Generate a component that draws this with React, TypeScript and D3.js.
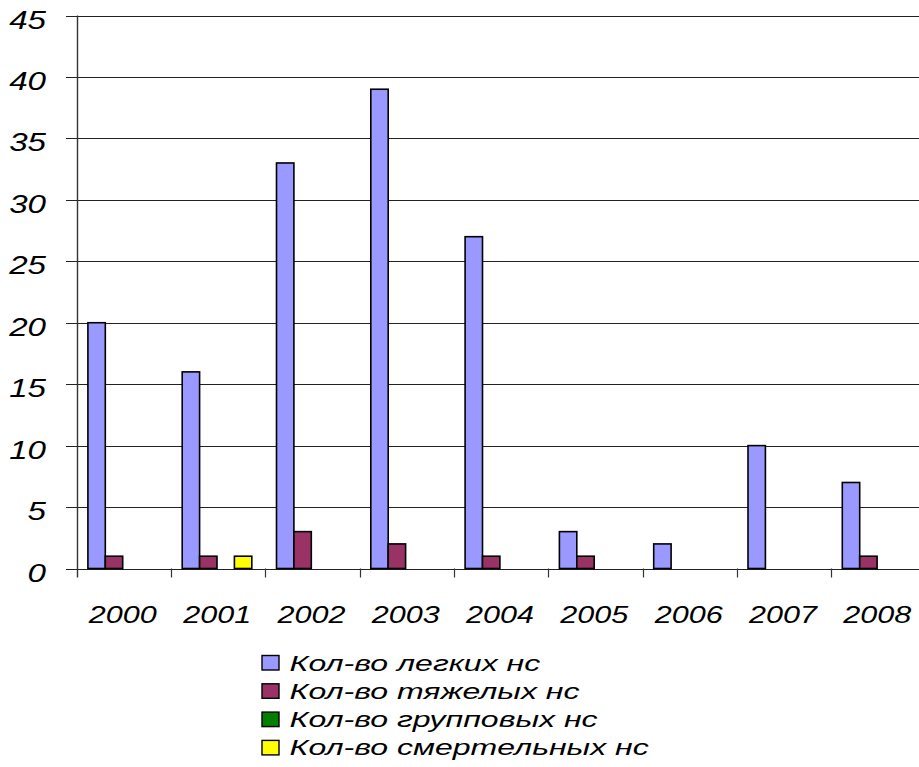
import React from "react";
import * as d3 from "d3";

const years = ["2000", "2001", "2002", "2003", "2004", "2005", "2006", "2007", "2008"];
const seriesNames = [
  "Кол-во легких нс",
  "Кол-во тяжелых нс",
  "Кол-во групповых нс",
  "Кол-во смертельных нс",
];
const lightValues = [20, 16, 33, 39, 27, 3, 2, 10, 7];
const heavyValues = [1, 1, 3, 2, 1, 1, 0, 0, 1];
const groupValues = [0, 0, 0, 0, 0, 0, 0, 0, 0];
const fatalValues = [0, 1, 0, 0, 0, 0, 0, 0, 0];
const seriesColors = ["#9999FF", "#993366", "#007F00", "#FFFF00"];
const yTicks = [0, 5, 10, 15, 20, 25, 30, 35, 40, 45];

const W = 919;
const H = 767;
const FONT = "'Liberation Sans', Arial, sans-serif";
const SX = 1.3;

export default function App() {
  const allSeries = [lightValues, heavyValues, groupValues, fatalValues];
  const plotLeft = 76.7;
  const groupW = 94.3;
  const x = d3.scaleBand<string>().domain(years).range([plotLeft, plotLeft + groupW * years.length]);
  const xs = d3.scaleBand<number>().domain([0, 1, 2, 3]).range([11.2, 11.2 + 4 * 17.4]);
  const y = d3.scaleLinear().domain([0, 45]).range([568.5, 15.5]);

  return (
    <svg
      width={W}
      height={H}
      style={{ position: "absolute", left: 0, top: 0, background: "#fff" }}
    >
      <rect x={0} y={0} width={W} height={H} fill="#fff" />
      {/* gridlines */}
      {yTicks.map((t) => (
        <line
          key={"g" + t}
          x1={66}
          x2={W}
          y1={Math.round(y(t)) + 0.5}
          y2={Math.round(y(t)) + 0.5}
          stroke="#222"
          strokeWidth={1.2}
        />
      ))}
      {/* y axis */}
      <line
        x1={Math.round(plotLeft) + 0.5}
        x2={Math.round(plotLeft) + 0.5}
        y1={y(45)}
        y2={y(0) + 9}
        stroke="#333"
        strokeWidth={1.4}
      />
      {/* category ticks */}
      {years.slice(1).map((yr) => (
        <line
          key={"t" + yr}
          x1={Math.round(x(yr)!) + 0.5}
          x2={Math.round(x(yr)!) + 0.5}
          y1={y(0)}
          y2={y(0) + 9}
          stroke="#333"
          strokeWidth={1.2}
        />
      ))}
      {/* bars */}
      {allSeries.map((vals, si) =>
        vals.map((v, i) =>
          v > 0 ? (
            <rect
              key={`b${si}-${i}`}
              x={x(years[i])! + xs(si)!}
              y={y(v)}
              width={xs.bandwidth()}
              height={y(0) - y(v)}
              fill={seriesColors[si]}
              stroke="#000"
              strokeWidth={1.6}
            />
          ) : null
        )
      )}
      {/* y labels */}
      {yTicks.map((t) => (
        <text
          key={"yl" + t}
          transform={`translate(46,${y(t) + 13}) scale(${SX},1)`}
          textAnchor="end"
          fontFamily={FONT}
          fontStyle="italic"
          fontSize={25.5}
          fill="#000"
        >
          {t}
        </text>
      ))}
      {/* x labels */}
      {years.map((yr) => (
        <text
          key={"xl" + yr}
          transform={`translate(${x(yr)! + x.bandwidth() / 2 - 1},623) scale(${SX},1)`}
          textAnchor="middle"
          fontFamily={FONT}
          fontStyle="italic"
          fontSize={23.5}
          fill="#000"
        >
          {yr}
        </text>
      ))}
      {/* legend */}
      {seriesNames.map((name, i) => (
        <g key={"lg" + i} transform={`translate(0,${i * 28.3})`}>
          <rect
            x={262}
            y={655.5}
            width={17}
            height={14.5}
            fill={seriesColors[i]}
            stroke="#000"
            strokeWidth={1.4}
          />
          <text
            transform={`translate(289.5,670.5) scale(1.4,1)`}
            fontFamily={FONT}
            fontStyle="italic"
            fontSize={22.9}
            fill="#000"
          >
            {name}
          </text>
        </g>
      ))}
    </svg>
  );
}
